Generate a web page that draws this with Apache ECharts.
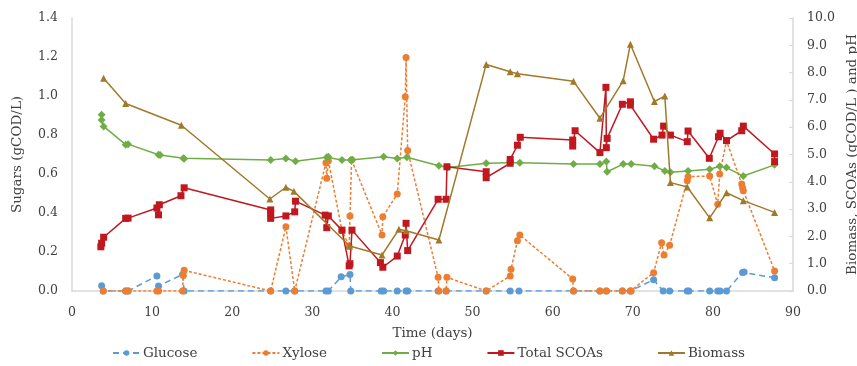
<!DOCTYPE html>
<html>
<head>
<meta charset="utf-8">
<script src="https://cdn.jsdelivr.net/npm/echarts@6/dist/echarts.min.js"></script>
<style>html,body{margin:0;padding:0;background:#fff}#c{width:857px;height:366px}</style>
</head>
<body>
<div id="c"></div>
<script>
// ---- data ----
var xTicks = [0, 10, 20, 30, 40, 50, 60, 70, 80, 90];
var leftTicks = [0.0, 0.2, 0.4, 0.6, 0.8, 1.0, 1.2, 1.4];
var rightTicks = [0, 1, 2, 3, 4, 5, 6, 7, 8, 9, 10];

var glucoseDays = [3.7, 3.9, 6.7, 7.0, 10.6, 10.8, 13.8, 14.0, 24.8, 26.7, 27.8, 31.7, 32.0, 33.6, 34.7, 34.8, 38.6, 38.9, 40.6, 41.7, 41.9, 45.7, 46.7, 51.7, 54.7, 55.8, 62.6, 65.9, 66.7, 68.7, 69.7, 72.6, 73.8, 74.6, 76.8, 77.0, 79.6, 80.6, 80.9, 81.7, 83.7, 83.9, 87.7];
var glucoseVals = [0.027, 0, 0, 0, 0.077, 0.026, 0.085, 0, 0, 0, 0, 0, 0, 0.073, 0.084, 0, 0, 0, 0, 0, 0, 0, 0, 0, 0, 0, 0, 0, 0, 0, 0, 0.058, 0, 0, 0, 0, 0, 0, 0, 0, 0.095, 0.098, 0.068];

var xyloseDays = [3.9, 6.7, 7.0, 10.6, 10.8, 13.8, 13.9, 14.0, 24.8, 26.7, 27.8, 31.7, 31.8, 32.0, 33.7, 34.6, 34.7, 34.9, 38.7, 38.8, 40.6, 41.6, 41.7, 41.9, 45.7, 45.8, 46.7, 46.8, 51.7, 54.7, 54.8, 55.6, 55.9, 62.5, 62.6, 65.9, 66.7, 68.7, 69.7, 69.8, 72.6, 73.6, 73.9, 74.6, 76.8, 76.9, 79.6, 80.6, 80.85, 81.7, 83.6, 83.7, 83.8, 87.7];
var xyloseVals = [0, 0, 0, 0, 0, 0, 0.08, 0.106, 0, 0.33, 0, 0.658, 0.578, 0.668, 0.31, 0.23, 0.385, 0.672, 0.287, 0.381, 0.497, 0.996, 1.198, 0.72, 0.07, 0, 0, 0.07, 0, 0.077, 0.111, 0.258, 0.287, 0.062, 0, 0, 0, 0, 0, 0, 0.094, 0.248, 0.185, 0.234, 0.566, 0.586, 0.59, 0.445, 0.60, 0.77, 0.549, 0.53, 0.514, 0.103];

var phDays = [3.7, 3.7, 3.95, 6.7, 7.0, 10.8, 11.0, 13.9, 14.0, 24.8, 26.7, 27.9, 31.8, 32.0, 33.7, 34.8, 35.0, 38.9, 40.6, 41.8, 45.8, 46.9, 51.7, 54.7, 55.9, 62.6, 65.9, 66.7, 66.8, 68.8, 69.8, 72.7, 74.0, 74.7, 76.9, 79.6, 80.85, 81.7, 83.8, 87.7];
var phVals = [6.46, 6.26, 6.03, 5.36, 5.38, 4.99, 4.98, 4.86, 4.84, 4.80, 4.85, 4.75, 4.90, 4.92, 4.80, 4.80, 4.81, 4.92, 4.85, 4.90, 4.59, 4.52, 4.68, 4.70, 4.70, 4.65, 4.65, 4.74, 4.37, 4.65, 4.65, 4.57, 4.40, 4.35, 4.40, 4.46, 4.57, 4.52, 4.21, 4.62];

var scoaDays = [3.6, 3.7, 3.95, 6.7, 7.0, 10.6, 10.8, 10.9, 13.6, 14.0, 24.8, 24.8, 24.8, 26.7, 27.8, 27.9, 31.6, 31.8, 32.0, 33.7, 34.6, 34.7, 34.95, 38.5, 38.8, 40.6, 41.6, 41.7, 41.9, 45.7, 46.7, 46.8, 51.7, 51.7, 54.7, 54.7, 55.6, 55.95, 62.5, 62.5, 62.8, 65.9, 66.65, 66.7, 66.8, 68.7, 69.7, 69.7, 72.6, 73.65, 73.85, 74.7, 76.8, 76.9, 79.55, 80.7, 80.9, 81.7, 83.6, 83.8, 87.7, 87.7];
var scoaVals = [1.62, 1.75, 1.97, 2.66, 2.67, 3.04, 2.79, 3.16, 3.49, 3.78, 2.97, 2.85, 2.66, 2.75, 2.90, 3.29, 2.78, 2.32, 2.75, 2.23, 0.92, 1.00, 2.23, 1.04, 0.87, 1.28, 2.05, 2.48, 1.48, 3.36, 3.36, 4.55, 4.37, 4.15, 4.68, 4.82, 5.34, 5.63, 5.53, 5.31, 5.87, 5.07, 7.46, 5.25, 5.59, 6.84, 6.93, 6.81, 5.56, 5.71, 6.04, 5.71, 5.47, 5.86, 4.86, 5.65, 5.78, 5.51, 5.87, 6.04, 5.02, 4.74];

var biomassDays = [3.95, 6.7, 13.65, 24.7, 26.7, 27.7, 34.65, 38.7, 40.8, 41.7, 45.8, 51.7, 54.7, 55.6, 62.6, 65.9, 68.8, 69.7, 72.7, 74.0, 74.7, 76.8, 79.6, 81.7, 83.8, 87.7];
var biomassVals = [7.79, 6.87, 6.07, 3.37, 3.80, 3.65, 1.65, 1.32, 2.26, 2.21, 1.87, 8.30, 8.03, 7.96, 7.68, 6.33, 7.70, 9.04, 6.94, 7.14, 3.97, 3.81, 2.68, 3.60, 3.31, 2.88];

function zip(a, b) { return a.map(function (d, i) { return [d, b[i]]; }); }

var FONT = 'DejaVu Serif';
var TXT = '#404040';
var AX = '#d9d9d9';

var chart = echarts.init(document.getElementById('c'), null, { renderer: 'canvas' });
chart.setOption({
  animation: false,
  backgroundColor: '#ffffff',
  textStyle: { fontFamily: FONT, color: TXT },
  grid: { left: 72, right: 64, top: 18, bottom: 75, containLabel: false, outerBoundsMode: 'none' },
  legend: {
    top: 344,
    left: 'center',
    itemWidth: 27,
    itemHeight: 7,
    itemGap: 54,
    padding: 2,
    textStyle: { fontFamily: FONT, fontSize: 13.5, color: TXT, padding: [0, 0, 0, -2] },
    data: ['Glucose', 'Xylose', 'pH', 'Total SCOAs', 'Biomass']
  },
  xAxis: {
    type: 'value',
    min: xTicks[0], max: xTicks[xTicks.length - 1], interval: xTicks[1] - xTicks[0],
    name: 'Time (days)', nameLocation: 'middle', nameGap: 35,
    nameTextStyle: { fontFamily: FONT, fontSize: 13.5, color: TXT },
    axisLine: { show: true, lineStyle: { color: AX, width: 1.5 } },
    axisTick: { show: false },
    splitLine: { show: false },
    axisLabel: { margin: 15, fontFamily: FONT, fontSize: 12.5, color: TXT }
  },
  yAxis: [{
    type: 'value',
    min: leftTicks[0], max: leftTicks[leftTicks.length - 1], interval: 0.2,
    name: 'Sugars (gCOD/L)', nameLocation: 'middle', nameGap: 48, nameRotate: 90,
    nameTextStyle: { fontFamily: FONT, fontSize: 13.5, color: TXT },
    axisLine: { show: true, lineStyle: { color: AX, width: 1.5 } },
    axisTick: { show: false },
    splitLine: { show: false },
    axisLabel: { margin: 14, fontFamily: FONT, fontSize: 12.5, color: TXT, formatter: function (v) { return v.toFixed(1); } }
  }, {
    type: 'value',
    min: rightTicks[0], max: rightTicks[rightTicks.length - 1], interval: 1,
    name: 'Biomass, SCOAs (gCOD/L ) and pH', nameLocation: 'middle', nameGap: 47, nameRotate: 90,
    nameTextStyle: { fontFamily: FONT, fontSize: 13.5, color: TXT },
    axisLine: { show: true, lineStyle: { color: AX, width: 1.5 } },
    axisTick: { show: true, inside: true, length: 4, lineStyle: { color: AX, width: 1 } },
    splitLine: { show: false },
    axisLabel: { margin: 14, fontFamily: FONT, fontSize: 12.5, color: TXT, formatter: function (v) { return v.toFixed(1); } }
  }],
  series: [{
    name: 'Glucose', type: 'line', yAxisIndex: 0, data: zip(glucoseDays, glucoseVals),
    symbol: 'circle', symbolSize: 7,
    itemStyle: { color: '#5b9bd5' },
    lineStyle: { color: '#5b9bd5', width: 1.5, type: [6, 4] }, z: 2
  }, {
    name: 'Xylose', type: 'line', yAxisIndex: 0, data: zip(xyloseDays, xyloseVals),
    symbol: 'circle', symbolSize: 7,
    itemStyle: { color: '#ed7d31' },
    lineStyle: { color: '#ed7d31', width: 1.5, type: [3, 2] }, z: 3
  }, {
    name: 'pH', type: 'line', yAxisIndex: 1, data: zip(phDays, phVals),
    symbol: 'diamond', symbolSize: 8,
    itemStyle: { color: '#70ad47' },
    lineStyle: { color: '#70ad47', width: 1.5 }, z: 4
  }, {
    name: 'Total SCOAs', type: 'line', yAxisIndex: 1, data: zip(scoaDays, scoaVals),
    symbol: 'rect', symbolSize: 7,
    itemStyle: { color: '#c0181e' },
    lineStyle: { color: '#c0181e', width: 1.5 }, z: 5
  }, {
    name: 'Biomass', type: 'line', yAxisIndex: 1, data: zip(biomassDays, biomassVals),
    symbol: 'triangle', symbolSize: 7,
    itemStyle: { color: '#a2782a' },
    lineStyle: { color: '#a2782a', width: 1.5 }, z: 6
  }]
});
</script>
</body>
</html>
